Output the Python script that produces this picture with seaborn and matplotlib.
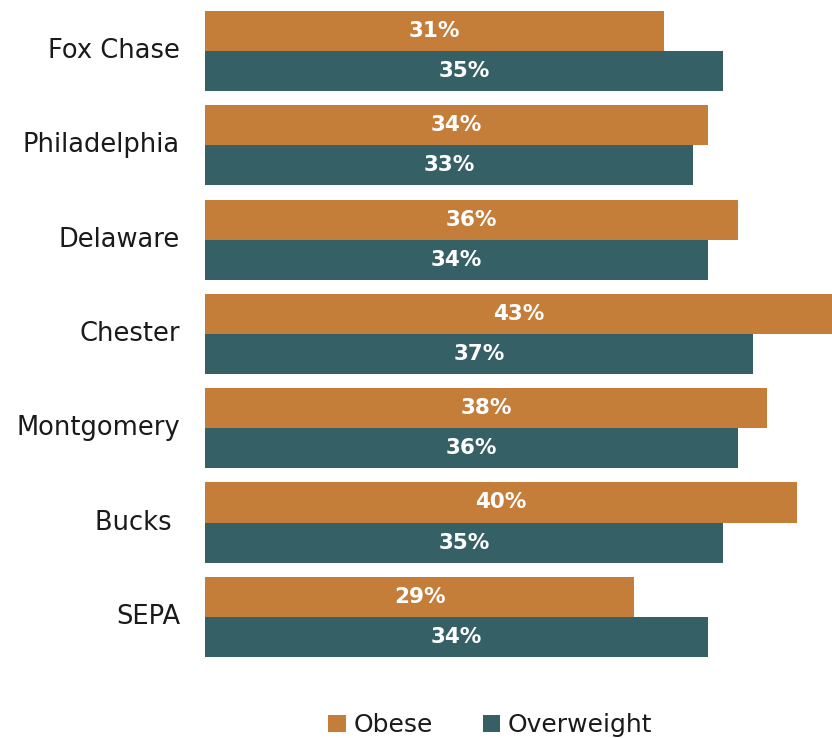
import seaborn as sns
import matplotlib.pyplot as plt
import matplotlib.transforms as mtransforms
import pandas as pd

regions = ["Fox Chase", "Philadelphia", "Delaware", "Chester", "Montgomery", "Bucks ", "SEPA"]
obese = [31, 34, 36, 43, 38, 40, 29]
overweight = [35, 33, 34, 37, 36, 35, 34]

df = pd.DataFrame({
    "region": regions * 2,
    "value": obese + overweight,
    "group": ["Obese"] * len(regions) + ["Overweight"] * len(regions),
})

sns.set_style("white")
plt.rcParams['font.family'] = ['DejaVu Sans']

fig = plt.figure(figsize=(8.32, 7.38), dpi=100)
ax = fig.add_axes([0.2464, 0.1003, 0.7536, 0.8944])

sns.barplot(data=df, y="region", x="value", hue="group", orient="h",
            palette=["#C57D3A", "#346066"], width=0.85, saturation=1,
            edgecolor="none", ax=ax)

for c in ax.containers:
    ax.bar_label(c, labels=[f"{v:.0f}%" for v in c.datavalues],
                 label_type="center", color="white", fontsize=15.5, fontweight="bold")

ax.set_xlim(0, 42.36)
ax.set_ylim(6.5, -0.5)
ax.set_xlabel("")
ax.set_ylabel("")
ax.set_xticks([])
ax.tick_params(axis="y", length=0, pad=18, labelsize=18.5)
# nudge category labels up a few pixels
shift = mtransforms.ScaledTranslation(0, 3 / 100, fig.dpi_scale_trans)
for t in ax.get_yticklabels():
    t.set_color("#1a1a1a")
    t.set_transform(t.get_transform() + shift)
sns.despine(ax=ax, left=True, bottom=True)

leg = ax.legend(loc="center", bbox_to_anchor=(0.455, -0.093), ncol=2, frameon=False,
                fontsize=18, handlelength=0.7, handleheight=0.7, handletextpad=0.3,
                columnspacing=2.0)
for t in leg.get_texts():
    t.set_color("#1a1a1a")

fig.savefig("out.png", dpi=100)
